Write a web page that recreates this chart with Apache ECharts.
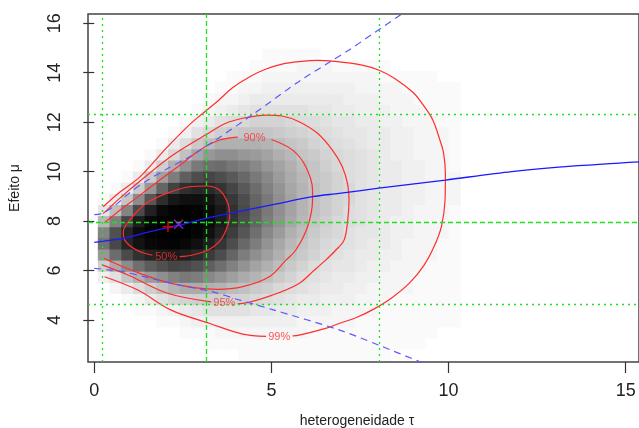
<!DOCTYPE html>
<html><head><meta charset="utf-8">
<script src="https://cdn.jsdelivr.net/npm/echarts@6/dist/echarts.min.js"></script>
<style>html,body{margin:0;padding:0;background:#fff;}#c{width:639px;height:428px;}</style>
</head><body><div id="c"></div>
<script>
// ---- data ----
var xTicks = [0, 5, 10, 15];
var yTicks = [4, 6, 8, 10, 12, 14, 16];

// heat-map cell centres (tau, mu) and relative joint posterior density (percent), one array per tau column, mu bottom->top
var tauCells = [0.265,0.595,0.925,1.255,1.585,1.915,2.245,2.575,2.905,3.235,3.565,3.895,4.225,4.555,4.885,5.215,5.545,5.875,6.205,6.535,6.865,7.195,7.525,7.855,8.185,8.515,8.845,9.175,9.505,9.835,10.165];
var muCells = [2.6,3.05,3.5,3.95,4.4,4.85,5.3,5.75,6.2,6.65,7.1,7.55,8.0,8.45,8.9,9.35,9.8,10.25,10.7,11.15,11.6,12.05,12.5,12.95,13.4,13.85,14.3,14.75,15.2,15.65];
var density = [
[0,0,0,0,0,0,0,3,10,23,33,28,15,5,1,0,0,0,0,0,0,0,0,0,0,0,0,0,0,0],
[0,0,0,0,0,0,2,6,18,35,47,44,29,14,4,1,0,0,0,0,0,0,0,0,0,0,0,0,0,0],
[0,0,0,0,0,1,4,12,26,46,62,62,48,28,12,4,1,0,0,0,0,0,0,0,0,0,0,0,0,0],
[0,0,0,0,1,2,7,17,34,56,73,78,66,46,26,11,4,1,0,0,0,0,0,0,0,0,0,0,0,0],
[0,0,0,0,1,4,10,22,40,63,82,90,83,64,42,23,11,4,1,0,0,0,0,0,0,0,0,0,0,0],
[0,0,0,1,2,6,13,25,44,66,86,96,94,80,58,37,21,10,4,1,0,0,0,0,0,0,0,0,0,0],
[0,0,0,1,3,8,16,29,48,68,87,98,99,88,70,49,30,17,8,4,1,0,0,0,0,0,0,0,0,0],
[0,0,1,2,4,9,18,31,47,65,82,94,97,90,75,57,39,24,13,7,3,1,0,0,0,0,0,0,0,0],
[0,0,1,3,5,10,18,30,44,60,75,86,90,87,76,61,45,31,19,11,6,3,1,0,0,0,0,0,0,0],
[0,1,1,3,6,10,17,27,39,52,65,75,80,79,72,60,48,34,23,14,8,4,2,1,0,0,0,0,0,0],
[0,1,2,3,6,10,16,24,34,45,55,63,67,68,63,55,45,35,25,17,10,6,3,2,1,0,0,0,0,0],
[0,1,2,3,6,9,14,21,29,37,45,51,55,56,53,48,41,32,25,17,11,7,4,2,1,1,0,0,0,0],
[1,1,2,3,6,9,13,18,24,30,36,42,45,46,45,41,36,30,23,17,12,8,5,3,2,1,0,0,0,0],
[1,1,2,3,5,8,11,16,20,25,30,34,37,38,37,35,31,27,22,17,12,9,6,4,2,1,1,0,0,0],
[1,1,2,3,5,7,10,13,17,21,24,27,30,31,31,29,27,23,20,16,12,9,6,4,3,2,1,1,0,0],
[1,1,2,3,4,6,8,11,14,17,19,22,24,25,25,24,22,20,17,14,11,9,6,4,3,2,1,1,0,0],
[1,1,2,3,4,5,7,9,11,13,15,17,19,20,20,19,18,17,15,12,10,8,6,4,3,2,1,1,0,0],
[1,1,2,2,3,4,6,7,9,11,12,14,15,16,16,16,15,14,12,11,9,7,6,4,3,2,2,1,0,0],
[1,1,1,2,3,4,5,6,7,9,10,11,12,13,13,13,12,12,11,9,8,7,5,4,3,2,2,1,0,0],
[1,1,1,2,3,3,4,5,6,7,8,9,10,11,11,11,11,10,9,8,7,6,5,4,3,2,2,0,0,0],
[1,1,1,2,2,3,4,4,5,6,7,8,8,9,9,9,9,8,8,7,6,5,4,4,3,2,1,0,0,0],
[1,1,1,2,2,3,3,4,5,5,6,6,7,7,8,8,7,7,7,6,5,5,4,3,3,2,1,0,0,0],
[1,1,1,1,2,2,3,3,4,4,5,5,6,6,6,6,6,6,6,5,5,4,3,3,2,2,1,0,0,0],
[1,1,1,1,2,2,2,3,3,4,4,5,5,5,5,5,5,5,5,4,4,4,3,3,2,2,1,0,0,0],
[1,1,1,1,1,2,2,2,3,3,4,4,4,4,4,4,4,4,4,4,4,3,3,2,2,1,1,0,0,0],
[0,1,1,1,1,1,2,2,2,3,3,3,3,4,4,4,4,4,3,3,3,3,2,2,2,1,0,0,0,0],
[0,1,1,1,1,1,2,2,2,2,2,3,3,3,3,3,3,3,3,3,3,2,2,2,1,1,0,0,0,0],
[0,1,1,1,1,1,1,1,2,2,2,2,2,2,3,3,3,3,2,2,2,2,2,1,1,1,0,0,0,0],
[0,0,1,1,1,1,1,1,1,2,2,2,2,2,2,2,2,2,2,2,2,2,1,1,1,1,0,0,0,0],
[0,0,0,1,1,1,1,1,1,1,1,2,2,2,2,2,2,2,2,2,2,1,1,1,1,0,0,0,0,0],
[0,0,0,1,1,1,1,1,1,1,1,1,1,1,2,2,2,1,1,1,1,1,1,1,1,0,0,0,0,0]
];

// posterior contours (tau, mu); null = gap for the label
var contour50 = [[2.41,6.56],[2.78,6.63],[3.21,6.83],[3.53,7.17],[3.72,7.64],[3.82,8.18],[3.77,8.72],[3.53,9.26],[3.16,9.42],[2.69,9.39],[2.04,9.12],[1.47,8.72],[1.0,8.04],[0.82,7.57],[0.86,7.23],[1.19,6.83],[1.64,6.62]];
var contour90 = [[0.3,7.95],[0.6,8.3],[1.2,8.95],[1.85,9.66],[2.5,10.35],[2.97,10.87],[3.54,11.28],[4.05,11.4],null,[5.0,11.3],[5.6,10.87],[5.97,10.2],[6.16,9.26],[6.16,8.85],[6.02,7.77],[5.69,6.83],[5.41,6.42],[4.94,5.75],[4.19,5.35],[3.48,5.24],[2.17,5.48],[1.04,6.02],[0.39,6.42],[0.28,6.5]];
var contour95 = [[0.25,8.3],[0.7,8.9],[1.29,9.62],[2.22,10.67],[3.16,11.5],[3.7,11.95],[4.19,12.16],[4.85,12.29],[5.3,12.25],[5.78,12.02],[6.3,11.55],[6.72,10.87],[7.0,10.2],[7.15,9.5],[7.19,8.85],[7.15,8.0],[7.05,7.23],[6.8,6.8],[6.53,6.42],[6.2,6.0],[5.78,5.48],[5.03,5.01],[4.19,4.67],[4.05,4.66],null,[3.3,4.73],[2.07,5.08],[0.95,5.82],[0.24,6.22]];
var contour99 = [[0.25,8.58],[0.7,9.15],[1.29,9.79],[1.98,10.87],[2.63,11.82],[2.97,12.25],[3.48,12.85],[3.91,13.4],[4.4,13.85],[4.85,14.15],[5.3,14.35],[5.78,14.45],[6.3,14.5],[6.72,14.47],[7.56,14.31],[8.04,14.1],[8.5,13.75],[9.0,13.2],[9.25,12.76],[9.55,12.1],[9.75,11.3],[9.86,10.74],[9.91,9.9],[9.9,8.85],[9.8,7.8],[9.6,7.0],[9.3,6.2],[8.9,5.5],[8.4,4.9],[7.9,4.45],[7.4,4.1],[6.91,3.86],[6.53,3.66],[5.78,3.39],[5.6,3.36],null,[4.85,3.34],[4.19,3.43],[3.26,3.86],[2.17,4.4],[1.23,5.21],[0.29,5.75]];
var contourLabels = [[2.03,6.56,'50%'],[4.52,11.38,'90%'],[3.67,4.7,'95%'],[5.22,3.33,'99%']];

// conditional mean of mu given tau, and its 95% band
var meanTau = [0,0.82,1.57,2.41,3.16,3.82,5.22,6.16,6.91,8.03,9.91,11.78,13.66,15.4];
var meanMu  = [7.14,7.3,7.57,7.84,8.11,8.31,8.72,8.99,9.12,9.33,9.66,10.0,10.24,10.4];
var upperTau = [0,0.25,0.6,1.0,1.5,2.04,2.69,3.5,4.52,5.78,6.72,7.19,8.68,9.0];
var upperMu  = [8.26,8.33,8.65,9.15,9.65,10.1,10.6,11.35,12.36,13.65,14.5,14.92,16.38,16.7];
var lowerTau = [0,0.4,0.82,1.5,2.41,3.4,4.0,5.03,6.91,8.0,9.21,9.6];
var lowerMu  = [6.09,6.03,5.95,5.72,5.41,5.12,4.85,4.42,3.6,3.0,2.3,2.1];

// posterior mode / median markers
var modePoint = [2.08, 7.77];
var medianPoint = [2.38, 7.87];

// reference lines: medians (dashed) and 95% intervals (dotted)
var tauMedian = 3.175, muMedian = 7.96;
var tauInterval = [0.235, 8.05];
var muInterval = [4.635, 12.34];

// ---- build ----
var cellW = 0.33, cellH = 0.45;
var cells = [];
for (var i = 0; i < tauCells.length; i++) {
  for (var j = 0; j < muCells.length; j++) {
    var v = density[i][j];
    if (v > 0) cells.push([tauCells[i], muCells[j], v]);
  }
}
function zip(a, b) { return a.map(function (x, k) { return [x, b[k]]; }); }

var RED = '#ff2e2e', GREEN = '#1fe01f', FONT = '"Liberation Sans", Arial, sans-serif';
function contourSeries(d) {
  return { type: 'line', data: d, symbol: 'none', smooth: 0.35, connectNulls: false, z: 4,
    lineStyle: { color: RED, width: 1.2 }, silent: true };
}

var chart = echarts.init(document.getElementById('c'), null, { renderer: 'canvas' });
chart.setOption({
  animation: false,
  grid: { left: 88, top: 14, width: 553, height: 348, show: true, borderColor: '#444', borderWidth: 1.5, backgroundColor: 'transparent' },
  xAxis: { type: 'value', min: -0.177, max: 15.374,
    axisLine: { show: false }, splitLine: { show: false },
    axisTick: { show: true, length: 11, customValues: xTicks, lineStyle: { color: '#333', width: 1.2 } },
    axisLabel: { customValues: xTicks, fontSize: 18, margin: 20, color: '#222', fontFamily: FONT } },
  yAxis: { type: 'value', min: 2.301, max: 16.376,
    axisLine: { show: false }, splitLine: { show: false },
    axisTick: { show: true, length: 11, customValues: yTicks, lineStyle: { color: '#333', width: 1.2 } },
    axisLabel: { customValues: yTicks, fontSize: 18, margin: 24, rotate: 90, color: '#222', fontFamily: FONT } },
  graphic: [
    { type: 'text', x: 357, y: 421, style: { text: 'heterogeneidade τ', fill: '#222', font: '14px ' + FONT, align: 'center', verticalAlign: 'middle' } },
    { type: 'text', x: 15, y: 188, rotation: Math.PI / 2, style: { text: 'Efeito μ', fill: '#222', font: '14px ' + FONT, align: 'center', verticalAlign: 'middle' } }
  ],
  series: [
    { type: 'custom', data: cells, clip: true, z: 1, silent: true,
      renderItem: function (params, api) {
        var t = api.value(0), m = api.value(1), v = api.value(2);
        var p0 = api.coord([t - cellW / 2, m + cellH / 2]);
        var p1 = api.coord([t + cellW / 2, m - cellH / 2]);
        var g = Math.round(255 * Math.pow(1 - v / 100, 2));
        return { type: 'rect', shape: { x: p0[0], y: p0[1], width: p1[0] - p0[0] + 0.6, height: p1[1] - p0[1] + 0.6 },
          style: { fill: 'rgb(' + g + ',' + g + ',' + g + ')' } };
      } },
    { type: 'line', data: [], z: 3, silent: true,
      markLine: { silent: true, symbol: ['none', 'none'], label: { show: false }, animation: false,
        lineStyle: { color: GREEN, width: 1.3 },
        data: [
          { xAxis: tauMedian, lineStyle: { type: [5, 3], color: GREEN, width: 1.3 } },
          { yAxis: muMedian, lineStyle: { type: [5, 3], color: GREEN, width: 1.3 } },
          { xAxis: tauInterval[0], lineStyle: { type: [2, 4], color: GREEN, width: 1.3 } },
          { xAxis: tauInterval[1], lineStyle: { type: [2, 4], color: GREEN, width: 1.3 } },
          { yAxis: muInterval[0], lineStyle: { type: [2, 4], color: GREEN, width: 1.3 } },
          { yAxis: muInterval[1], lineStyle: { type: [2, 4], color: GREEN, width: 1.3 } }
        ] } },
    contourSeries(contour50), contourSeries(contour90), contourSeries(contour95), contourSeries(contour99),
    { type: 'scatter', data: contourLabels, symbolSize: 0, z: 5, silent: true,
      label: { show: true, position: 'inside', formatter: function (p) { return p.value[2]; },
        color: RED, fontSize: 11, fontFamily: FONT } },
    { type: 'line', data: zip(meanTau, meanMu), symbol: 'none', smooth: 0.3, z: 6, silent: true,
      lineStyle: { color: '#1a1aff', width: 1.3 } },
    { type: 'line', data: zip(upperTau, upperMu), symbol: 'none', smooth: 0.3, z: 6, silent: true,
      lineStyle: { color: '#5a5aff', width: 1.2, type: [7, 5] } },
    { type: 'line', data: zip(lowerTau, lowerMu), symbol: 'none', smooth: 0.3, z: 6, silent: true,
      lineStyle: { color: '#5a5aff', width: 1.2, type: [7, 5] } },
    { type: 'scatter', data: [modePoint], symbol: 'path://M0,5L10,5M5,0L5,10', symbolSize: 11, z: 7, silent: true,
      itemStyle: { color: 'rgba(0,0,0,0)', borderColor: '#ff0000', borderWidth: 1.6 } },
    { type: 'scatter', data: [medianPoint], symbol: 'path://M0,0L10,10M0,10L10,0', symbolSize: 9, z: 7, silent: true,
      itemStyle: { color: 'rgba(0,0,0,0)', borderColor: '#a020f0', borderWidth: 1.6 } }
  ]
});
</script></body></html>
